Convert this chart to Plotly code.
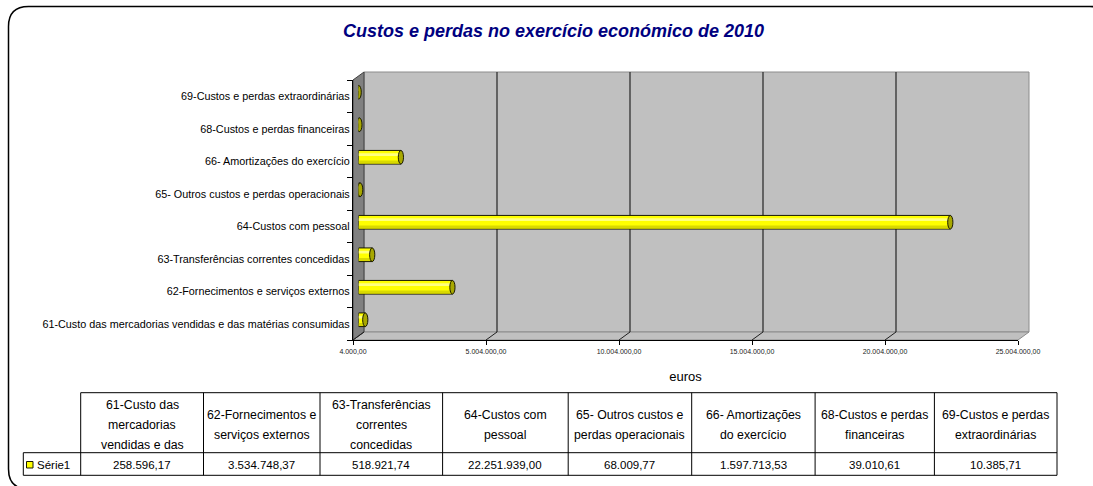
import plotly.graph_objects as go

# ---------------- data ----------------
CATEGORIES = [
    "61-Custo das mercadorias vendidas e das matérias consumidas",
    "62-Fornecimentos e serviços externos",
    "63-Transferências correntes concedidas",
    "64-Custos com pessoal",
    "65- Outros custos e perdas operacionais",
    "66- Amortizações do exercício",
    "68-Custos e perdas financeiras",
    "69-Custos e perdas extraordinárias",
]
VALUES = [258596.17, 3534748.37, 518921.74, 22251939.00, 68009.77, 1597713.53, 39010.61, 10385.71]
TABLE_HEADERS = [
    "61-Custo das<br>mercadorias<br>vendidas e das",
    "62-Fornecimentos e<br>serviços externos",
    "63-Transferências<br>correntes<br>concedidas",
    "64-Custos com<br>pessoal",
    "65- Outros custos e<br>perdas operacionais",
    "66- Amortizações<br>do exercício",
    "68-Custos e perdas<br>financeiras",
    "69-Custos e perdas<br>extraordinárias",
]
SERIES_NAME = "Série1"
X_TICKS = [4000, 5004000, 10004000, 15004000, 20004000, 25004000]
X_TICK_LABELS = ["4.000,00", "5.004.000,00", "10.004.000,00", "15.004.000,00", "20.004.000,00", "25.004.000,00"]
TITLE = "Custos e perdas no exercício económico de 2010"
X_TITLE = "euros"

# ---------------- layout geometry (pixels) ----------------
W, H = 1093, 486
L, R, T, B = 353, 75, 80, 146
PW, PH = W - L - R, H - T - B
DX, DY = 11, 8          # 3-D depth offset
FONT = "Liberation Sans, Arial, sans-serif"


def px(x):
    return (x - L) / PW


def py(y):
    return (H - B - y) / PH


def fmt_pt(v):
    s = f"{v:,.2f}"
    return s.replace(",", "X").replace(".", ",").replace("X", ".")


xmin, xmax = X_TICKS[0], X_TICKS[-1]
scale = (xmax - xmin) / PW          # value per pixel
ncat = len(CATEGORIES)
cat_px = PH / ncat

fig = go.Figure()

# invisible trace to register the front axes
fig.add_trace(go.Scatter(x=VALUES, y=CATEGORIES, mode="markers",
                         marker=dict(opacity=0), hoverinfo="skip",
                         showlegend=False, xaxis="x", yaxis="y"))

bases = [xmin] * ncat
lengths = [v - xmin for v in VALUES]
# main cylinder body
fig.add_trace(go.Bar(y=CATEGORIES, x=lengths, base=bases, orientation="h",
                     width=0.42, name=SERIES_NAME,
                     marker=dict(color="#FFFF00", line=dict(color="#1a1a00", width=1)),
                     xaxis="x2", yaxis="y2", showlegend=False,
                     customdata=VALUES, hovertemplate="%{y}: %{customdata:,.2f}<extra></extra>"))
# lower shade
fig.add_trace(go.Bar(y=CATEGORIES, x=lengths, base=bases, orientation="h",
                     width=0.09, offset=-0.19,
                     marker=dict(color="#D9D900", line=dict(width=0)),
                     xaxis="x2", yaxis="y2", showlegend=False, hoverinfo="skip"))
# highlight
fig.add_trace(go.Bar(y=CATEGORIES, x=lengths, base=bases, orientation="h",
                     width=0.08, offset=0.04,
                     marker=dict(color="#FFFF80", line=dict(width=0)),
                     xaxis="x2", yaxis="y2", showlegend=False, hoverinfo="skip"))

shapes = []
# outer rounded frame
l0, t0, r0, b0, rr = 8.5, 6.5, 1110, 489, 20
path = (f"M {px(l0)},{py(t0 + rr)} Q {px(l0)},{py(t0)} {px(l0 + rr)},{py(t0)} "
        f"L {px(r0 - rr)},{py(t0)} Q {px(r0)},{py(t0)} {px(r0)},{py(t0 + rr)} "
        f"L {px(r0)},{py(b0 - rr)} Q {px(r0)},{py(b0)} {px(r0 - rr)},{py(b0)} "
        f"L {px(l0 + rr)},{py(b0)} Q {px(l0)},{py(b0)} {px(l0)},{py(b0 - rr)} Z")
shapes.append(dict(type="path", path=path, xref="paper", yref="paper",
                   line=dict(color="black", width=1.5), layer="below"))

front_l, front_r, front_t, front_b = L, W - R, T, H - B
# back wall
shapes.append(dict(type="rect", xref="paper", yref="paper",
                   x0=px(front_l + DX), x1=px(front_r + DX), y0=py(front_b - DY), y1=py(front_t - DY),
                   fillcolor="#C0C0C0", line=dict(color="#8C8C8C", width=1), layer="below"))
# floor
shapes.append(dict(type="path", xref="paper", yref="paper",
                   path=(f"M {px(front_l)},{py(front_b)} L {px(front_r)},{py(front_b)} "
                         f"L {px(front_r + DX)},{py(front_b - DY)} L {px(front_l + DX)},{py(front_b - DY)} Z"),
                   fillcolor="#C0C0C0", line=dict(color="#8C8C8C", width=1), layer="below"))
# left wall
shapes.append(dict(type="path", xref="paper", yref="paper",
                   path=(f"M {px(front_l)},{py(front_b)} L {px(front_l)},{py(front_t)} "
                         f"L {px(front_l + DX)},{py(front_t - DY)} L {px(front_l + DX)},{py(front_b - DY)} Z"),
                   fillcolor="#808080", line=dict(color="#404040", width=1), layer="below"))

# gridlines on back wall + floor diagonals, anchored to the tick values
for tv in X_TICKS:
    if tv not in (X_TICKS[0], X_TICKS[-1]):
        shapes.append(dict(type="line", xref="x", xsizemode="pixel", xanchor=tv, x0=DX, x1=DX,
                           yref="paper", ysizemode="pixel", yanchor=0, y0=DY, y1=PH + DY,
                           line=dict(color="#303030", width=1.3), layer="below"))
    if tv != X_TICKS[-1]:
        shapes.append(dict(type="line", xref="x", xsizemode="pixel", xanchor=tv, x0=0, x1=DX,
                           yref="paper", ysizemode="pixel", yanchor=0, y0=0, y1=DY,
                           line=dict(color="#202020", width=1), layer="below"))

# cylinder end caps
for i, v in enumerate(VALUES):
    shapes.append(dict(type="circle", xref="x2", xsizemode="pixel", xanchor=v, x0=-2.6, x1=2.6,
                       yref="y2", y0=i - 0.21, y1=i + 0.21,
                       fillcolor="#A8A800", line=dict(color="#1a1a00", width=1), layer="above"))

# ---------------- data table ----------------
tt, tm, tb, tl = 392.7, 452.7, 475.3, 23.3
cols = [80.7, 203.5, 320.0, 442.6, 568.2, 691.7, 815.1, 934.4, 1057.0]
lc = dict(color="black", width=1)


def hline(x0, x1, y):
    shapes.append(dict(type="line", xref="paper", yref="paper", x0=px(x0), x1=px(x1),
                       y0=py(y), y1=py(y), line=lc))


def vline(x, y0, y1):
    shapes.append(dict(type="line", xref="paper", yref="paper", x0=px(x), x1=px(x),
                       y0=py(y0), y1=py(y1), line=lc))


hline(cols[0], cols[-1], tt)
hline(tl, cols[-1], tm)
hline(tl, cols[-1], tb)
vline(tl, tm, tb)
for c in cols:
    vline(c, tt, tb)

annotations = []
hf = dict(family=FONT, size=12.3, color="black")
tf = dict(family=FONT, size=11.5, color="black")
for j, head in enumerate(TABLE_HEADERS):
    xc = (cols[j] + cols[j + 1]) / 2
    lines = head.split("<br>")
    n = len(lines)
    for k, ln in enumerate(lines):
        yc = 425 + (k - (n - 1) / 2) * 19.8
        annotations.append(dict(text=ln, x=px(xc), y=py(yc), xref="paper", yref="paper",
                                showarrow=False, xanchor="center", yanchor="middle", font=hf))
    annotations.append(dict(text=fmt_pt(VALUES[j]), x=px(xc), y=py(465), xref="paper", yref="paper",
                            showarrow=False, xanchor="center", yanchor="middle", font=tf))

# legend key inside table
shapes.append(dict(type="rect", xref="paper", yref="paper", x0=px(26.5), x1=px(33), y0=py(461.5),
                   y1=py(468), fillcolor="#FFFF00", line=dict(color="#1a1a00", width=1)))
annotations.append(dict(text=SERIES_NAME, x=px(35), y=py(465), xref="paper", yref="paper",
                        showarrow=False, xanchor="left", yanchor="middle", font=tf))

fig.update_layout(
    width=W, height=H,
    margin=dict(l=L, r=R, t=T, b=B, autoexpand=False),
    paper_bgcolor="white", plot_bgcolor="rgba(0,0,0,0)",
    barmode="overlay",
    title=dict(text=TITLE, x=553.5 / W, xanchor="center", y=1 - 31 / H, yanchor="middle",
               font=dict(family=FONT, size=18, color="#000080", weight="bold", style="italic")),
    xaxis=dict(range=[xmin, xmax], tickvals=X_TICKS, ticktext=X_TICK_LABELS,
               showgrid=False, zeroline=False, showline=True, linecolor="black", linewidth=1.3,
               ticks="outside", ticklen=4, tickcolor="black",
               tickfont=dict(family=FONT, size=7, color="#222222"),
               title=dict(text=X_TITLE, standoff=18, font=dict(family=FONT, size=13, color="black")),
               domain=[0, 1], anchor="y", fixedrange=True),
    yaxis=dict(type="category", categoryorder="array", categoryarray=CATEGORIES,
               range=[-0.5, ncat - 0.5], showgrid=False, zeroline=False,
               showline=True, linecolor="black", linewidth=1.3,
               ticks="outside", ticklen=5, tickcolor="black", tickson="boundaries",
               tickfont=dict(family=FONT, size=10.8, color="black"),
               domain=[0, 1], anchor="x", fixedrange=True),
    xaxis2=dict(range=[xmin, xmax - (DX / 2) * scale], domain=[(DX / 2) / PW, 1],
                anchor="y2", visible=False, fixedrange=True),
    yaxis2=dict(type="category", categoryorder="array", categoryarray=CATEGORIES,
                range=[-0.5, ncat - 0.5 - (DY / 2) / cat_px], domain=[(DY / 2) / PH, 1],
                anchor="x2", visible=False, fixedrange=True),
    shapes=shapes,
    annotations=annotations,
    showlegend=False,
)

fig.write_html("out.html", config={"displayModeBar": False},
               post_script="document.body.style.margin='0';")
